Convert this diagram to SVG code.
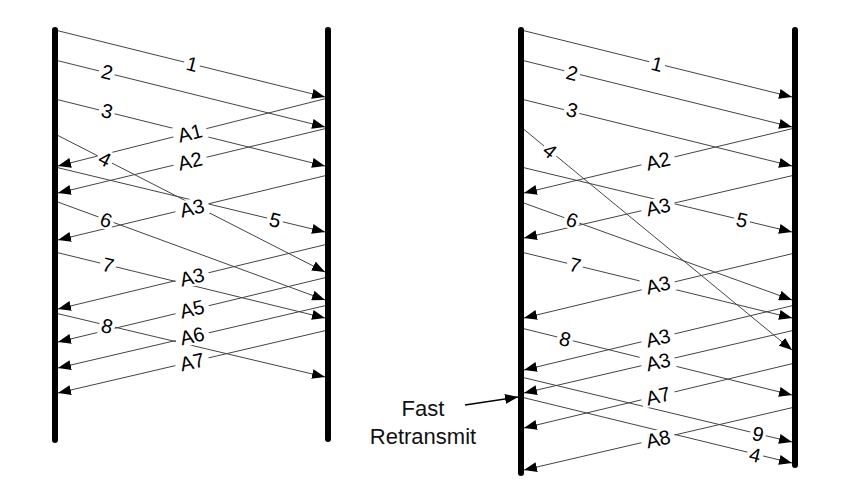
<svg xmlns="http://www.w3.org/2000/svg" width="860" height="494" viewBox="0 0 860 494">
<style>
.c{stroke:#444;stroke-width:1;fill:none;marker-end:url(#ah)}
.bar{stroke:#000;stroke-width:6;stroke-linecap:round}
.lb text{font-family:"Liberation Sans",Arial,sans-serif;font-size:20px;fill:#000;text-anchor:middle}
.ft{font-family:"Liberation Sans",Arial,sans-serif;font-size:22px;fill:#111;text-anchor:middle}
</style>
<defs>
<marker id="ah" markerUnits="userSpaceOnUse" markerWidth="13" markerHeight="10" refX="13" refY="5" orient="auto">
<path d="M0,0 L13,5 L0,10 z" fill="#000"/>
</marker>
<rect id="bd" x="-8" y="-9" width="16" height="18" fill="#fff"/>
<rect id="ba" x="-17" y="-9" width="34" height="18" fill="#fff"/>
</defs>
<g id="connectors">
<!-- left diagram data -->
<line class="c" x1="55" y1="30" x2="325" y2="97"/>
<line class="c" x1="55" y1="60" x2="325" y2="127"/>
<line class="c" x1="55" y1="99" x2="325" y2="166"/>
<line class="c" x1="55" y1="134" x2="325" y2="272"/>
<line class="c" x1="55" y1="167" x2="325" y2="232"/>
<line class="c" x1="55" y1="201" x2="325" y2="300"/>
<line class="c" x1="55" y1="252" x2="325" y2="318"/>
<line class="c" x1="55" y1="313" x2="325" y2="377"/>
<!-- left diagram acks -->
<line class="c" x1="328" y1="98" x2="58" y2="166"/>
<line class="c" x1="328" y1="128" x2="58" y2="193"/>
<line class="c" x1="328" y1="175" x2="58" y2="240"/>
<line class="c" x1="328" y1="244" x2="58" y2="309"/>
<line class="c" x1="328" y1="277" x2="58" y2="342"/>
<line class="c" x1="328" y1="305" x2="58" y2="368"/>
<line class="c" x1="328" y1="330" x2="58" y2="393"/>
<!-- right diagram data -->
<line class="c" x1="521" y1="30" x2="792" y2="97"/>
<line class="c" x1="521" y1="60" x2="792" y2="127"/>
<line class="c" x1="521" y1="99" x2="792" y2="166"/>
<line class="c" x1="521" y1="127" x2="792" y2="350"/>
<line class="c" x1="521" y1="167" x2="792" y2="232"/>
<line class="c" x1="521" y1="202" x2="792" y2="300"/>
<line class="c" x1="521" y1="252" x2="792" y2="318"/>
<line class="c" x1="521" y1="328" x2="792" y2="395"/>
<line class="c" x1="521" y1="377" x2="792" y2="442"/>
<line class="c" x1="521" y1="397" x2="792" y2="463"/>
<!-- right diagram acks -->
<line class="c" x1="795" y1="128" x2="524" y2="193"/>
<line class="c" x1="795" y1="175" x2="524" y2="238"/>
<line class="c" x1="795" y1="253" x2="524" y2="318"/>
<line class="c" x1="795" y1="305" x2="524" y2="370"/>
<line class="c" x1="795" y1="330" x2="524" y2="393"/>
<line class="c" x1="795" y1="363" x2="524" y2="428"/>
<line class="c" x1="795" y1="407" x2="524" y2="470"/>
<!-- fast retransmit pointer -->
<line x1="465" y1="405" x2="518" y2="397" stroke="#000" stroke-width="1.5" marker-end="url(#ah)"/>
</g>
<g id="labels" class="lb">
<g transform="translate(192,64) rotate(14)"><use href="#bd"/><text y="7">1</text></g>
<g transform="translate(107,72) rotate(14)"><use href="#bd"/><text y="7">2</text></g>
<g transform="translate(107,111) rotate(14)"><use href="#bd"/><text y="7">3</text></g>
<g transform="translate(105,159) rotate(27)"><use href="#bd"/><text y="7">4</text></g>
<g transform="translate(275,220) rotate(14)"><use href="#bd"/><text y="7">5</text></g>
<g transform="translate(106,220) rotate(20)"><use href="#bd"/><text y="7">6</text></g>
<g transform="translate(108,265) rotate(14)"><use href="#bd"/><text y="7">7</text></g>
<g transform="translate(107,326) rotate(14)"><use href="#bd"/><text y="7">8</text></g>
<g transform="translate(190,133) rotate(-14)"><use href="#ba"/><text y="7">A1</text></g>
<g transform="translate(190,161) rotate(-13.5)"><use href="#ba"/><text y="7">A2</text></g>
<g transform="translate(192,208) rotate(-13.5)"><use href="#ba"/><text y="7">A3</text></g>
<g transform="translate(192,277) rotate(-13.5)"><use href="#ba"/><text y="7">A3</text></g>
<g transform="translate(192,309) rotate(-13.5)"><use href="#ba"/><text y="7">A5</text></g>
<g transform="translate(192,336) rotate(-13)"><use href="#ba"/><text y="7">A6</text></g>
<g transform="translate(192,362) rotate(-13)"><use href="#ba"/><text y="7">A7</text></g>

<g transform="translate(657,64) rotate(14)"><use href="#bd"/><text y="7">1</text></g>
<g transform="translate(572,73) rotate(14)"><use href="#bd"/><text y="7">2</text></g>
<g transform="translate(572,110) rotate(14)"><use href="#bd"/><text y="7">3</text></g>
<g transform="translate(550,151) rotate(39.5)"><use href="#bd"/><text y="7">4</text></g>
<g transform="translate(742,220) rotate(13.5)"><use href="#bd"/><text y="7">5</text></g>
<g transform="translate(572,220) rotate(20)"><use href="#bd"/><text y="7">6</text></g>
<g transform="translate(575,265) rotate(14)"><use href="#bd"/><text y="7">7</text></g>
<g transform="translate(565,339) rotate(14)"><use href="#bd"/><text y="7">8</text></g>
<g transform="translate(758,434) rotate(13.5)"><use href="#bd"/><text y="7">9</text></g>
<g transform="translate(755,455) rotate(13.5)"><use href="#bd"/><text y="7">4</text></g>
<g transform="translate(658,161) rotate(-13.5)"><use href="#ba"/><text y="7">A2</text></g>
<g transform="translate(658,207) rotate(-13)"><use href="#ba"/><text y="7">A3</text></g>
<g transform="translate(658,285) rotate(-13.5)"><use href="#ba"/><text y="7">A3</text></g>
<g transform="translate(658,338) rotate(-13.5)"><use href="#ba"/><text y="7">A3</text></g>
<g transform="translate(658,362) rotate(-13)"><use href="#ba"/><text y="7">A3</text></g>
<g transform="translate(658,396) rotate(-13.5)"><use href="#ba"/><text y="7">A7</text></g>
<g transform="translate(658,439) rotate(-13)"><use href="#ba"/><text y="7">A8</text></g>
</g>
<g id="sender-left"><line class="bar" x1="55" y1="30" x2="55" y2="440"/></g>
<g id="receiver-left"><line class="bar" x1="328" y1="30" x2="328" y2="439"/></g>
<g id="sender-right"><line class="bar" x1="521" y1="30" x2="521" y2="473"/></g>
<g id="receiver-right"><line class="bar" x1="795" y1="30" x2="795" y2="465"/></g>
<g id="fast-retransmit-label">
<text class="ft" x="423" y="416">Fast</text>
<text class="ft" x="423" y="444">Retransmit</text>
</g>
</svg>
